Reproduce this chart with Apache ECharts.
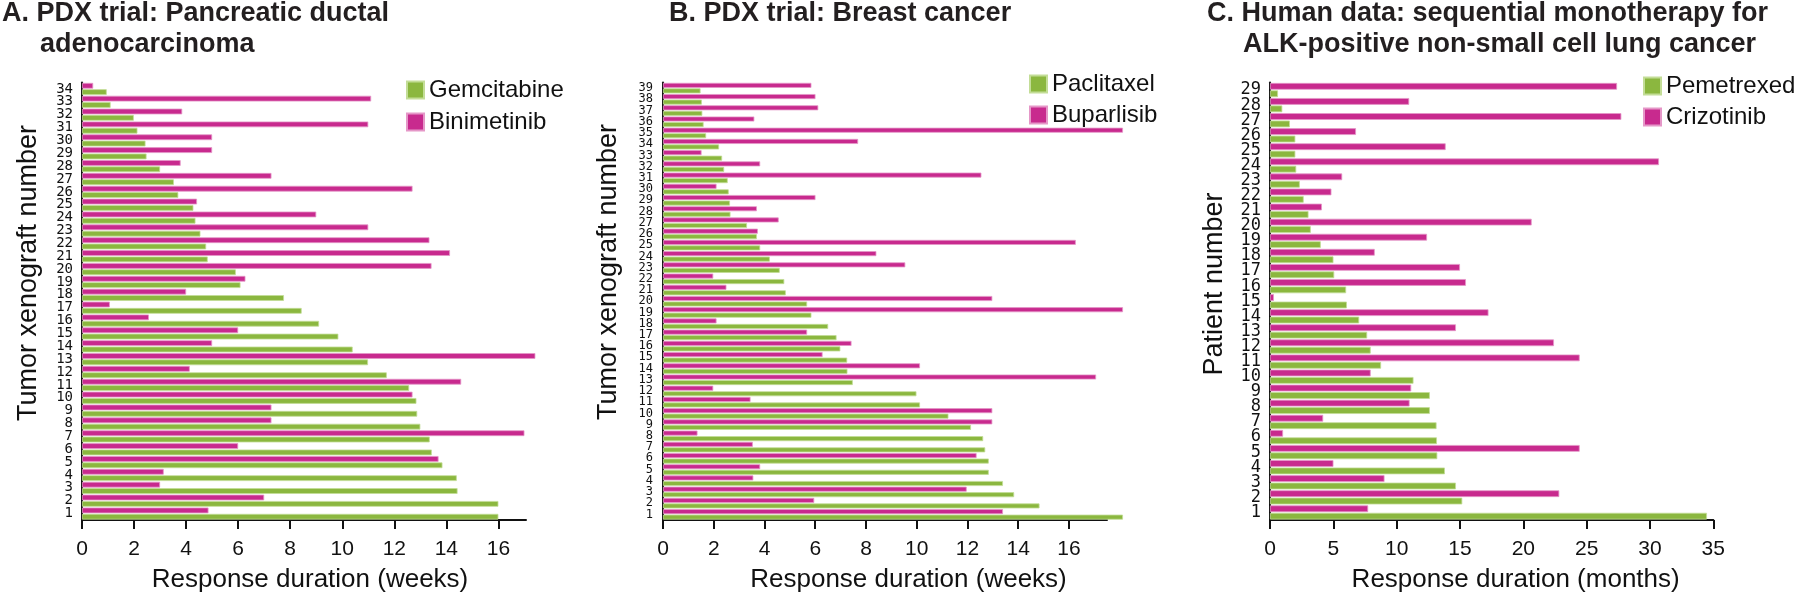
<!DOCTYPE html>
<html>
<head>
<meta charset="utf-8">
<title>Response duration</title>
<script src="https://cdn.jsdelivr.net/npm/echarts@6.0.0/dist/echarts.min.js"></script>
<style>
  html, body { margin: 0; padding: 0; background: #fff; }
  #main { width: 1800px; height: 598px; }
</style>
</head>
<body>
<div id="main"></div>
<script>
// category labels (bottom to top)
const xenograftsA = ['1','2','3','4','5','6','7','8','9','10','11','12','13','14','15','16','17',
  '18','19','20','21','22','23','24','25','26','27','28','29','30','31','32','33','34'];
const xenograftsB = ['1','2','3','4','5','6','7','8','9','10','11','12','13','14','15','16','17',
  '18','19','20','21','22','23','24','25','26','27','28','29','30','31','32','33','34','35','36',
  '37','38','39'];
const patients = ['1','2','3','4','5','6','7','8','9','10','11','12','13','14','15','16','17',
  '18','19','20','21','22','23','24','25','26','27','28','29'];

// A. pancreatic ductal adenocarcinoma (weeks)
const gemcitabine = [16.0, 16.0, 14.43, 14.4, 13.85, 13.44, 13.36, 13.0, 12.88, 12.85, 12.57, 11.71,
  10.99, 10.4, 9.85, 9.11, 8.44, 7.76, 6.09, 5.91, 4.83, 4.77, 4.55, 4.36, 4.28, 3.7, 3.53, 3.0,
  2.48, 2.44, 2.13, 1.99, 1.1, 0.95];
const binimetinib = [4.86, 7.0, 3.0, 3.14, 13.7, 6.0, 17.0, 7.28, 7.28, 12.7, 14.57, 4.14, 17.42,
  5.0, 6.0, 2.57, 1.07, 4.0, 6.28, 13.43, 14.14, 13.35, 11.0, 9.0, 4.42, 12.7, 7.28, 3.79, 5.0,
  5.0, 11.0, 3.85, 11.11, 0.43];

// B. breast cancer (weeks)
const paclitaxel = [18.13, 14.84, 13.84, 13.4, 12.84, 12.84, 12.7, 12.62, 12.14, 11.25, 10.13, 9.99,
  7.48, 7.27, 7.26, 6.99, 6.84, 6.51, 5.85, 5.68, 4.84, 4.78, 4.6, 4.21, 3.83, 3.7, 3.31, 2.66,
  2.64, 2.59, 2.55, 2.41, 2.33, 2.21, 1.7, 1.6, 1.55, 1.53, 1.48];
const buparlisib = [13.4, 5.96, 11.97, 3.56, 3.83, 12.36, 3.54, 1.36, 12.98, 12.98, 3.45, 1.98,
  17.07, 10.13, 6.29, 7.43, 5.68, 2.11, 18.13, 12.98, 2.5, 1.98, 9.55, 8.41, 16.27, 3.74, 4.56,
  3.7, 6.01, 2.11, 12.55, 3.83, 1.52, 7.69, 18.13, 3.6, 6.12, 6.01, 5.85];

// C. ALK-positive NSCLC (months)
const pemetrexed = [34.5, 15.18, 14.68, 13.81, 13.21, 13.18, 13.15, 12.62, 12.62, 11.33, 8.77, 7.95,
  7.67, 7.04, 6.07, 6.01, 5.07, 5.01, 4.01, 3.22, 3.04, 2.66, 2.35, 2.07, 2.0, 2.0, 1.57, 0.97, 0.63];
const crizotinib = [7.75, 22.84, 9.04, 5.01, 24.45, 1.03, 4.2, 11.02, 11.15, 7.95, 24.45, 22.42,
  14.68, 17.25, 0.31, 15.47, 15.0, 8.27, 12.4, 20.66, 4.1, 4.85, 5.7, 30.71, 13.87, 6.79, 27.74,
  10.99, 27.4];

const weekTicks = [0, 2, 4, 6, 8, 10, 12, 14, 16];
const monthTicks = [0, 5, 10, 15, 20, 25, 30, 35];

const FONT = 'Liberation Sans, Arial, sans-serif';
const GREEN = '#8bb73f';
const MAGENTA = '#c82a8e';

function valueAxis(idx, max, ticks, name, padLeft) {
  return {
    type: 'value', gridIndex: idx, min: 0, max: max,
    name: name, nameLocation: 'middle', nameGap: 47,
    nameTextStyle: { fontFamily: FONT, fontSize: 26, color: '#111', padding: [0, 0, 0, padLeft] },
    axisLine: { show: true, lineStyle: { color: '#111', width: 2 } },
    axisTick: { show: true, length: 9, customValues: ticks, lineStyle: { color: '#111', width: 2 } },
    axisLabel: { fontFamily: FONT, fontSize: 21, color: '#111', margin: 19, customValues: ticks },
    splitLine: { show: false }
  };
}

function categoryAxis(idx, data, size, margin) {
  return {
    type: 'category', gridIndex: idx, data: data,
    axisLine: { lineStyle: { color: '#111', width: 2 } },
    axisTick: { length: 4, interval: 0, lineStyle: { color: '#111', width: 2 } },
    axisLabel: { interval: 0, fontFamily: 'DejaVu Sans Mono', fontSize: size, color: '#111', margin: margin }
  };
}

function barSeries(name, data, idx, color, border) {
  return {
    name: name, type: 'bar', data: data, xAxisIndex: idx, yAxisIndex: idx,
    clip: false, barGap: '10%', barCategoryGap: '6%',
    itemStyle: { color: color, borderColor: border, borderWidth: 0.8 },
    emphasis: { disabled: true }
  };
}

function legendAt(names, left, top, gap, size) {
  return {
    data: names, left: left, top: top, orient: 'vertical', padding: 0,
    itemWidth: size, itemHeight: size, itemGap: gap, icon: 'rect',
    textStyle: { fontFamily: FONT, fontSize: 24, color: '#111' }
  };
}

function yName(text, x, y) {
  return {
    type: 'text', x: x, y: y, rotation: Math.PI / 2,
    style: { text: text, fontFamily: FONT, fontSize: 27, fill: '#111',
      align: 'center', verticalAlign: 'middle', textAlign: 'center', textVerticalAlign: 'middle' }
  };
}

const titleStyle = { fontFamily: FONT, fontSize: 27, fontWeight: 'bold', color: '#231f20' };

var myChart = echarts.init(document.getElementById('main'));
var option = {
  animation: false,
  title: [
    { text: 'A. PDX trial: Pancreatic ductal', left: 2, top: 0, padding: 0, textStyle: titleStyle },
    { text: 'adenocarcinoma', left: 40, top: 31, padding: 0, textStyle: titleStyle },
    { text: 'B. PDX trial: Breast cancer', left: 669, top: 0, padding: 0, textStyle: titleStyle },
    { text: 'C. Human data: sequential monotherapy for', left: 1207, top: 0, padding: 0, textStyle: titleStyle },
    { text: 'ALK-positive non-small cell lung cancer', left: 1243, top: 31, padding: 0, textStyle: titleStyle }
  ],
  legend: [
    legendAt(['Gemcitabine', 'Binimetinib'], 406, 78, 8, 17),
    legendAt(['Paclitaxel', 'Buparlisib'], 1029, 72, 7, 17),
    legendAt(['Pemetrexed', 'Crizotinib'], 1643, 74, 7, 17)
  ],
  grid: [
    { left: 82, top: 82.5, width: 444, height: 441.5 },
    { left: 663, top: 82.5, width: 444, height: 441.5 },
    { left: 1270, top: 82.5, width: 443.3, height: 441.5 }
  ],
  xAxis: [
    valueAxis(0, 17.06, weekTicks, 'Response duration (weeks)', 12),
    valueAxis(1, 17.5, weekTicks, 'Response duration (weeks)', 47),
    valueAxis(2, 35, monthTicks, 'Response duration (months)', 48)
  ],
  yAxis: [
    categoryAxis(0, xenograftsA, 14, 9),
    categoryAxis(1, xenograftsB, 12, 10),
    categoryAxis(2, patients, 17, 9)
  ],
  graphic: [
    yName('Tumor xenograft number', 29, 273),
    yName('Tumor xenograft number', 609, 272),
    yName('Patient number', 1215, 284)
  ],
  series: [
    barSeries('Binimetinib', binimetinib, 0, MAGENTA, '#e597c8'),
    barSeries('Gemcitabine', gemcitabine, 0, GREEN, '#c3dd97'),
    barSeries('Buparlisib', buparlisib, 1, MAGENTA, '#e597c8'),
    barSeries('Paclitaxel', paclitaxel, 1, GREEN, '#c3dd97'),
    barSeries('Crizotinib', crizotinib, 2, MAGENTA, '#e597c8'),
    barSeries('Pemetrexed', pemetrexed, 2, GREEN, '#c3dd97')
  ]
};
myChart.setOption(option);
</script>
</body>
</html>
